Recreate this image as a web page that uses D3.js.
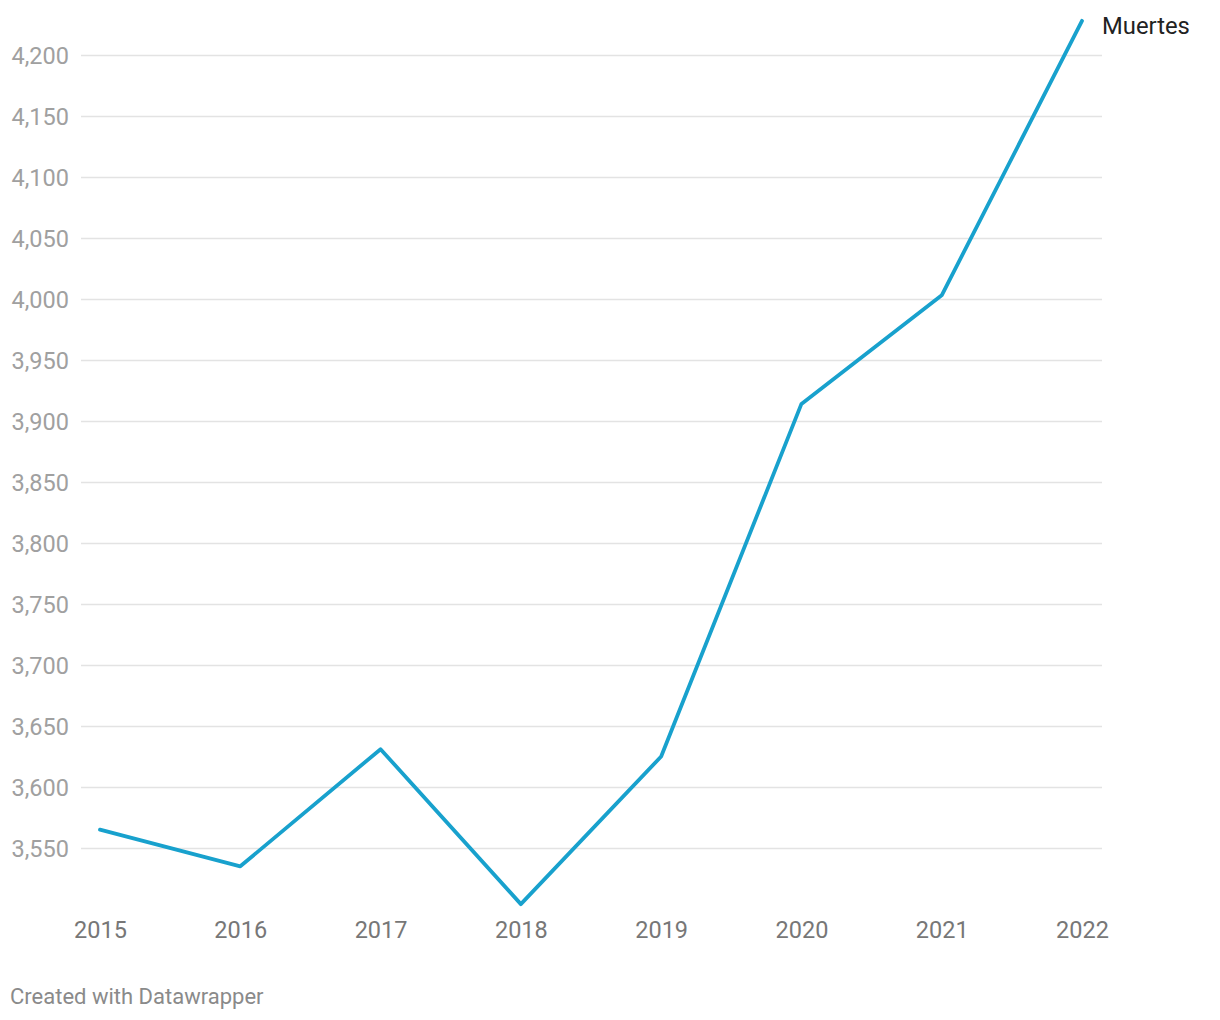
<!DOCTYPE html>
<html><head><meta charset="utf-8">
<script src="https://cdn.jsdelivr.net/npm/d3@7"></script>
<style>body{margin:0;background:#fff;font-family:Roboto,sans-serif;}</style>
</head><body><svg id="c" width="1220" height="1020"></svg>
<script>
const years = [2015, 2016, 2017, 2018, 2019, 2020, 2021, 2022];
const muertes = [3565, 3535, 3631, 3504, 3625, 3914, 4003, 4228];
const yTicks = [3550, 3600, 3650, 3700, 3750, 3800, 3850, 3900, 3950, 4000, 4050, 4100, 4150, 4200];
const seriesName = "Muertes";
const footer = "Created with Datawrapper";

const svg = d3.select("#c");
const x = d3.scaleLinear().domain([2015, 2022]).range([100, 1082]);
const y = d3.scaleLinear().domain([3550, 4200]).range([848, 55]);

const fmt = d3.format(",");
const yAxis = d3.axisLeft(y).tickValues(yTicks).tickSize(1021).tickFormat(fmt);
const gy = svg.append("g").attr("transform", "translate(1102,0)").call(yAxis);
gy.select(".domain").remove();
gy.selectAll(".tick line").attr("stroke", "#e3e3e3").attr("stroke-width", 1.5);
gy.selectAll(".tick text").attr("x", -1033).attr("fill", "#a0a0a0").attr("text-anchor", "end")
  .style("font-family", "Roboto").style("font-size", "23.5px").attr("dy", "0.35em");

const xAxis = d3.axisBottom(x).tickValues(years).tickFormat(d3.format("d")).tickSize(0).tickPadding(0);
const gx = svg.append("g").attr("transform", "translate(0,918)").call(xAxis);
gx.select(".domain").remove();
gx.selectAll(".tick text").attr("fill", "#777").attr("dy", "0.35em").attr("y", 12)
  .style("font-family", "Roboto").style("font-size", "23.5px");

const line = d3.line().x((d, i) => x(years[i])).y(d => y(d));
svg.append("path").datum(muertes).attr("d", line).attr("fill", "none")
  .attr("stroke", "#18a1cd").attr("stroke-width", 3.8)
  .attr("stroke-linejoin", "round").attr("stroke-linecap", "round");

svg.append("text").attr("x", x(2022) + 20).attr("y", y(muertes[7]) + 5).attr("dy", "0.35em")
  .attr("fill", "#222").style("font-family", "Roboto").style("font-size", "23.8px").text(seriesName);

svg.append("text").attr("x", 10).attr("y", 1004).attr("fill", "#8a8a8a")
  .style("font-family", "Roboto").style("font-size", "22px").text(footer);
</script></body></html>
